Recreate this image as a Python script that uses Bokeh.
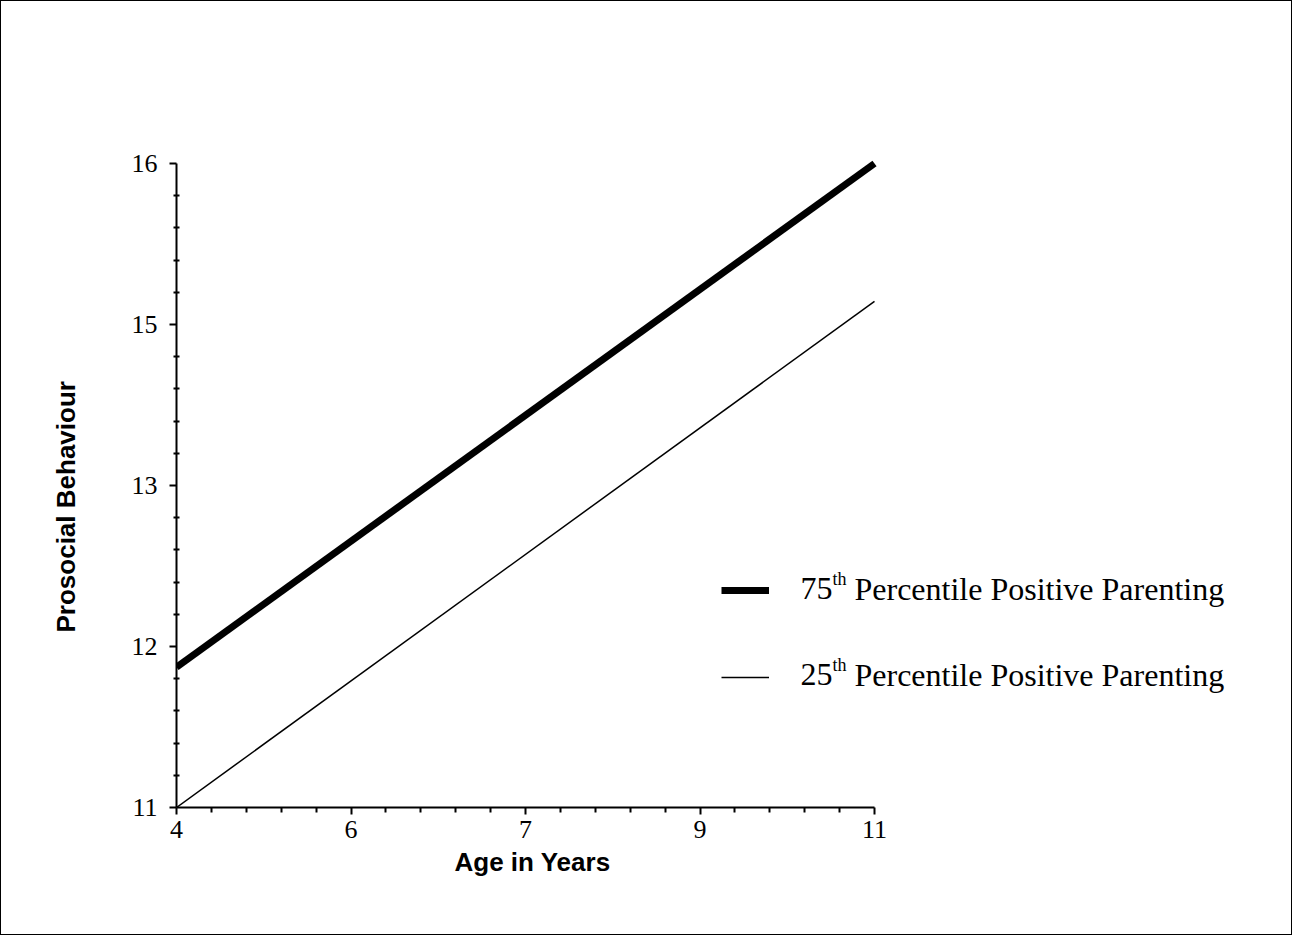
from bokeh.plotting import figure
from bokeh.models import FixedTicker, Label, Legend, LegendItem, Range1d, Title
from bokeh.embed import file_html
from bokeh.resources import INLINE

# ---- data ----
age = [4, 11]
high_parenting = [12.09, 16.0]   # 75th percentile positive parenting
low_parenting = [11.0, 14.93]    # 25th percentile positive parenting

x_ticks = [4, 5.75, 7.5, 9.25, 11]
x_tick_labels = ["4", "6", "7", "9", "11"]
y_ticks = [11, 12.25, 13.5, 14.75, 16]
y_tick_labels = ["11", "12", "13", "15", "16"]

legend_rows = [("75", "th", "Percentile Positive Parenting"),
               ("25", "th", "Percentile Positive Parenting")]

x_title = "Age in Years"
y_title = "Prosocial Behaviour"


def minors(ticks, n=5):
    out = []
    for a, b in zip(ticks[:-1], ticks[1:]):
        step = (b - a) / n
        out += [a + step * k for k in range(1, n)]
    return out


# ---- layout (pixels) ----
W, H = 1292, 935            # plus 1px CSS border each side -> 1294 x 937
LEFT, TOP, RIGHT, BOTTOM = 175, 129, 2, 129
AXIS_W, AXIS_H = 698, 644   # pixel length of the drawn axes
frame_w = W - LEFT - RIGHT
frame_h = H - TOP - BOTTOM
x0, x1 = x_ticks[0], x_ticks[-1]
y0, y1 = y_ticks[0], y_ticks[-1]

p = figure(width=W, height=H,
           x_range=Range1d(x0, x0 + (x1 - x0) * frame_w / AXIS_W),
           y_range=Range1d(y0, y0 + (y1 - y0) * frame_h / AXIS_H),
           output_backend="svg", toolbar_location=None,
           min_border_left=LEFT, min_border_right=RIGHT,
           min_border_top=TOP, min_border_bottom=BOTTOM)
p.styles = {"border": "1px solid black"}
p.outline_line_color = None
p.xgrid.visible = False
p.ygrid.visible = False
p.background_fill_color = "white"
p.border_fill_color = "white"

r_high = p.line(age, high_parenting, line_width=7, line_color="black", line_cap="butt")
r_low = p.line(age, low_parenting, line_width=1.5, line_color="black")

for ax, ticks in ((p.xaxis[0], x_ticks), (p.yaxis[0], y_ticks)):
    ax.ticker = FixedTicker(ticks=ticks, minor_ticks=minors(ticks))
    ax.bounds = (ticks[0], ticks[-1])
    ax.axis_line_width = 2
    ax.major_tick_line_width = 2
    ax.minor_tick_line_width = 2
    ax.major_tick_in = 0
    ax.major_tick_out = 7
    ax.major_label_text_font = "Liberation Serif"
    ax.major_label_text_font_size = "26px"
    ax.major_label_text_color = "black"

p.xaxis.major_label_overrides = dict(zip(x_ticks, x_tick_labels))
p.yaxis.major_label_overrides = dict(zip(y_ticks, y_tick_labels))
p.xaxis.minor_tick_in = 0
p.xaxis.minor_tick_out = 5
p.yaxis.minor_tick_in = 3
p.yaxis.minor_tick_out = 3
p.xaxis.major_label_standoff = 6
p.yaxis.major_label_standoff = 12

# axis titles placed as side-panel titles
p.add_layout(Title(text=x_title, align="left", offset=278, standoff=8,
                   text_font="Liberation Sans", text_font_style="bold",
                   text_font_size="26px", text_color="black"), "below")
p.add_layout(Title(text=y_title, align="left", offset=175, standoff=95,
                   text_font="Liberation Sans", text_font_style="bold",
                   text_font_size="26px", text_color="black"), "left")

# legend line samples
legend = Legend(items=[LegendItem(label=" ", renderers=[r_high]),
                       LegendItem(label=" ", renderers=[r_low])],
                location=(545, 120), glyph_width=48, glyph_height=20,
                label_height=20, label_width=1, label_standoff=0,
                label_text_font_size="1px", spacing=67, padding=0, margin=0,
                border_line_color=None, background_fill_alpha=0)
p.add_layout(legend)

# legend texts with superscripts
fs_main, fs_sup = 32, 18
base_y = [219, 133]
for (num, sup, rest), by in zip(legend_rows, base_y):
    tx = 624
    p.add_layout(Label(x=tx, y=by, x_units="screen", y_units="screen", text=num,
                       text_font="Liberation Serif", text_font_size=f"{fs_main}px",
                       text_baseline="alphabetic", text_color="black"))
    xs = tx + fs_main * 1.0
    p.add_layout(Label(x=xs, y=by + 10, x_units="screen", y_units="screen", text=sup,
                       text_font="Liberation Serif", text_font_size=f"{fs_sup}px",
                       text_baseline="alphabetic", text_color="black"))
    xr = xs + fs_sup * 0.778 + fs_main * 0.25
    p.add_layout(Label(x=xr, y=by, x_units="screen", y_units="screen", text=rest,
                       text_font="Liberation Serif", text_font_size=f"{fs_main}px",
                       text_baseline="alphabetic", text_color="black"))

open("out.html", "w").write(file_html(p, INLINE))
